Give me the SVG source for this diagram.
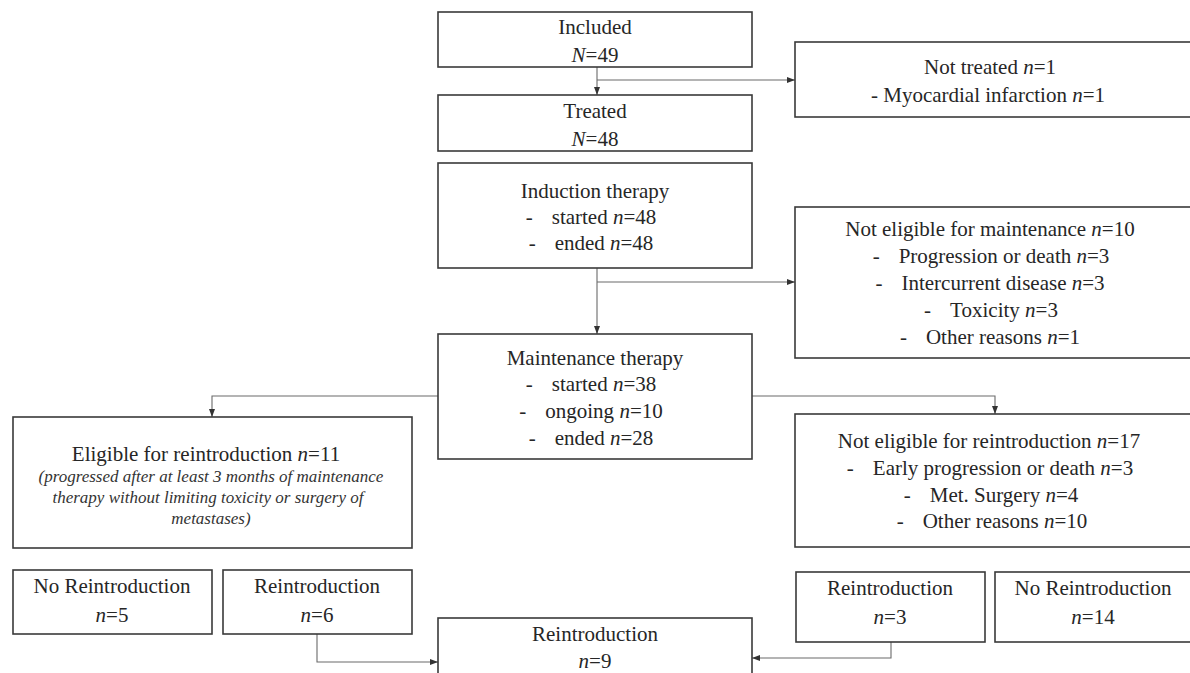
<svg xmlns="http://www.w3.org/2000/svg" width="1190" height="673" viewBox="0 0 1190 673">
<style>
.box{fill:#fff;stroke:#3a3a3a;stroke-width:1.6}
.t{font-family:"Liberation Serif","Times New Roman",serif;font-size:21px;fill:#262626;text-anchor:middle}
.s{font-family:"Liberation Serif","Times New Roman",serif;font-size:17px;font-style:italic;fill:#333;text-anchor:middle}
.i{font-style:italic}
.c{fill:none;stroke:#6a6a6a;stroke-width:1.1}
</style>
<defs>
<marker id="arr" viewBox="0 0 8 8" refX="8" refY="4" markerWidth="8" markerHeight="8" markerUnits="userSpaceOnUse" orient="auto">
<path d="M0,1 L8,4 L0,7 z" fill="#333"/>
</marker>
</defs>
<rect width="1190" height="673" fill="#fff"/>
<g id="connectors">
<path class="c" d="M597,67 V95" marker-end="url(#arr)"/>
<path class="c" d="M597,80 H795" marker-end="url(#arr)"/>
<path class="c" d="M597,268 V334" marker-end="url(#arr)"/>
<path class="c" d="M597,282 H795" marker-end="url(#arr)"/>
<path class="c" d="M438,396 H212 V417" marker-end="url(#arr)"/>
<path class="c" d="M752,396 H995 V414" marker-end="url(#arr)"/>
<path class="c" d="M317,634 V662 H438" marker-end="url(#arr)"/>
<path class="c" d="M891,642 V658 H752" marker-end="url(#arr)"/>
</g>
<g id="included">
<rect class="box" x="438" y="12" width="314" height="55"/>
<text class="t" x="595" y="34">Included</text>
<text class="t" x="595" y="62"><tspan class="i">N</tspan>=49</text>
</g>
<g id="not-treated">
<rect class="box" x="795" y="42" width="400" height="75"/>
<text class="t" x="990" y="74">Not treated <tspan class="i">n</tspan>=1</text>
<text class="t" x="988" y="102">- Myocardial  infarction <tspan class="i">n</tspan>=1</text>
</g>
<g id="treated">
<rect class="box" x="438" y="95" width="314" height="56"/>
<text class="t" x="595" y="118">Treated</text>
<text class="t" x="595" y="146"><tspan class="i">N</tspan>=48</text>
</g>
<g id="induction">
<rect class="box" x="438" y="163" width="314" height="105"/>
<text class="t" x="595" y="198">Induction  therapy</text>
<text class="t" x="591" y="224">-<tspan dx="19">started </tspan><tspan class="i">n</tspan>=48</text>
<text class="t" x="591" y="250">-<tspan dx="19">ended </tspan><tspan class="i">n</tspan>=48</text>
</g>
<g id="not-eligible-maintenance">
<rect class="box" x="795" y="207" width="400" height="151"/>
<text class="t" x="990" y="236">Not eligible  for maintenance  <tspan class="i">n</tspan>=10</text>
<text class="t" x="991" y="263">-<tspan dx="19">Progression  or death </tspan><tspan class="i">n</tspan>=3</text>
<text class="t" x="990" y="290">-<tspan dx="19">Intercurrent disease </tspan><tspan class="i">n</tspan>=3</text>
<text class="t" x="991" y="317">-<tspan dx="19">Toxicity </tspan><tspan class="i">n</tspan>=3</text>
<text class="t" x="990" y="344">-<tspan dx="19">Other reasons </tspan><tspan class="i">n</tspan>=1</text>
</g>
<g id="maintenance">
<rect class="box" x="438" y="334" width="314" height="125"/>
<text class="t" x="595" y="365">Maintenance therapy</text>
<text class="t" x="591" y="391">-<tspan dx="19">started </tspan><tspan class="i">n</tspan>=38</text>
<text class="t" x="591" y="418">-<tspan dx="19">ongoing </tspan><tspan class="i">n</tspan>=10</text>
<text class="t" x="591" y="445">-<tspan dx="19">ended </tspan><tspan class="i">n</tspan>=28</text>
</g>
<g id="eligible-reintroduction">
<rect class="box" x="13" y="417" width="399" height="131"/>
<text class="t" x="206" y="461">Eligible  for reintroduction  <tspan class="i">n</tspan>=11</text>
<text class="s" x="211" y="482">(progressed after at least 3 months of maintenance</text>
<text class="s" x="208" y="503">therapy without limiting toxicity or surgery of</text>
<text class="s" x="211" y="524">metastases)</text>
</g>
<g id="not-eligible-reintroduction">
<rect class="box" x="795" y="414" width="400" height="133"/>
<text class="t" x="989" y="448">Not eligible  for reintroduction  <tspan class="i">n</tspan>=17</text>
<text class="t" x="990" y="475">-<tspan dx="19">Early progression  or death </tspan><tspan class="i">n</tspan>=3</text>
<text class="t" x="991" y="502">-<tspan dx="19">Met. Surgery </tspan><tspan class="i">n</tspan>=4</text>
<text class="t" x="992" y="528">-<tspan dx="19">Other reasons </tspan><tspan class="i">n</tspan>=10</text>
</g>
<g id="no-reintroduction-left">
<rect class="box" x="13" y="570" width="199" height="64"/>
<text class="t" x="112" y="593">No Reintroduction</text>
<text class="t" x="112" y="622"><tspan class="i">n</tspan>=5</text>
</g>
<g id="reintroduction-left">
<rect class="box" x="223" y="570" width="189" height="64"/>
<text class="t" x="317" y="593">Reintroduction</text>
<text class="t" x="317" y="622"><tspan class="i">n</tspan>=6</text>
</g>
<g id="reintroduction-right">
<rect class="box" x="796" y="572" width="189" height="70"/>
<text class="t" x="890" y="595">Reintroduction</text>
<text class="t" x="890" y="624"><tspan class="i">n</tspan>=3</text>
</g>
<g id="no-reintroduction-right">
<rect class="box" x="995" y="572" width="200" height="70"/>
<text class="t" x="1093" y="595">No Reintroduction</text>
<text class="t" x="1093" y="624"><tspan class="i">n</tspan>=14</text>
</g>
<g id="reintroduction-total">
<rect class="box" x="438" y="618" width="314" height="70"/>
<text class="t" x="595" y="641">Reintroduction</text>
<text class="t" x="595" y="668"><tspan class="i">n</tspan>=9</text>
</g>
</svg>
